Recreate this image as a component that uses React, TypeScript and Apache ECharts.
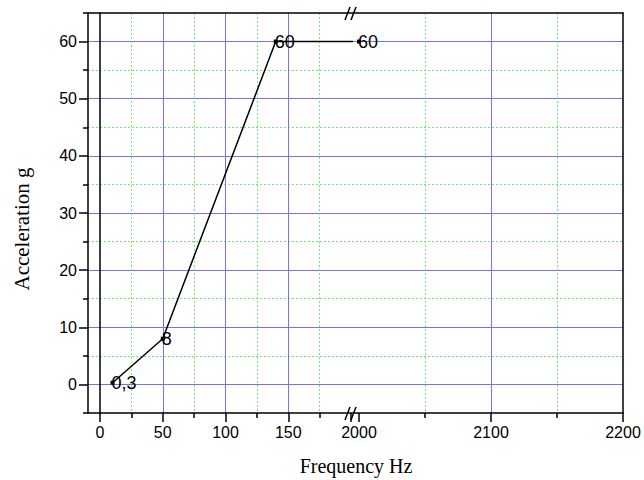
import React, { useEffect, useRef } from 'react';
import * as echarts from 'echarts';

// ---- data ----
const frequency = [10, 50, 140, 2000];
const acceleration = [0.3, 8, 60, 60];
const pointLabels = ['0,3', '8', '60', '60'];

// axis ranges
const leftRange = [0, 200];
const rightRange = [2000, 2200];
const yRange = [-5, 65];
const yMajorRange = [0, 60];

const BLUE = '#7474ec';
const GREEN = '#74e474';
const BLACK = '#000';
const SANS = '"Liberation Sans", Arial, sans-serif';
const SERIF = '"Liberation Serif", "Times New Roman", serif';

export default function App() {
  const ref = useRef<HTMLDivElement>(null);
  useEffect(() => {
    if (!ref.current) return;
    const chart = echarts.init(ref.current, undefined, { renderer: 'svg' });

    const top = 13;
    const height = 400;
    const pxPerY = height / (yRange[1] - yRange[0]);
    const majorTop = top + (yRange[1] - yMajorRange[1]) * pxPerY;
    const majorHeight = (yMajorRange[1] - yMajorRange[0]) * pxPerY;

    const points = frequency.map((f, i) => [f, acceleration[i]]);

    const frameLine = { show: true, onZero: false, lineStyle: { color: BLACK, width: 1.5 } };
    const tickStyle = { color: BLACK, width: 1.5 };
    const labelStyle = {
      fontSize: 16, color: BLACK, fontFamily: SANS, margin: 11,
      formatter: (v: number) => String(v),
    };

    const seriesBase = {
      type: 'line' as const,
      data: points,
      symbol: 'rect',
      symbolSize: 4,
      clip: true,
      z: 5,
      itemStyle: { color: BLACK },
      lineStyle: { color: BLACK, width: 1.5 },
      label: {
        show: true,
        position: 'right' as const,
        distance: -3,
        fontSize: 18,
        color: BLACK,
        fontFamily: SANS,
        formatter: (p: any) => pointLabels[p.dataIndex],
      },
    };

    const breakLines = [
      [345, 20, 350, 7],
      [351, 20, 356, 7],
      [345, 420, 350, 407],
      [351, 420, 356, 407],
    ].map(([x1, y1, x2, y2]) => ({
      type: 'line',
      shape: { x1, y1, x2, y2 },
      style: { stroke: BLACK, lineWidth: 1.5 },
      z: 10,
    }));

    chart.setOption({
      animation: false,
      backgroundColor: '#fff',
      grid: [
        { left: 88, top, width: 535, height },
        { left: 88, top: majorTop, width: 535, height: majorHeight },
        { left: 100, top, width: 251, height },
        { left: 359, top, width: 264, height },
      ],
      xAxis: [
        {
          gridIndex: 0, type: 'value', min: 0, max: 1, position: 'bottom',
          axisLine: frameLine, axisTick: { show: false }, axisLabel: { show: false }, splitLine: { show: false },
        },
        {
          gridIndex: 0, type: 'value', min: 0, max: 1, position: 'top',
          axisLine: frameLine, axisTick: { show: false }, axisLabel: { show: false }, splitLine: { show: false },
        },
        { gridIndex: 1, type: 'value', min: 0, max: 1, show: false },
        {
          gridIndex: 2, type: 'value', min: leftRange[0], max: leftRange[1], interval: 50, position: 'bottom',
          axisLine: { show: false, onZero: false },
          axisTick: { show: true, length: 9, lineStyle: tickStyle },
          minorTick: { show: true, splitNumber: 2, length: 5, lineStyle: tickStyle },
          axisLabel: { ...labelStyle, showMaxLabel: false },
          splitLine: { show: true, showMinLine: false, showMaxLine: false, lineStyle: { color: BLUE, width: 1 } },
          minorSplitLine: { show: true, lineStyle: { color: GREEN, width: 1, type: [2, 2] } },
        },
        {
          gridIndex: 3, type: 'value', min: rightRange[0], max: rightRange[1], interval: 100, position: 'bottom',
          axisLine: { show: false, onZero: false },
          axisTick: { show: true, length: 9, lineStyle: tickStyle },
          minorTick: { show: true, splitNumber: 2, length: 5, lineStyle: tickStyle },
          axisLabel: { ...labelStyle },
          splitLine: { show: true, showMinLine: false, showMaxLine: false, lineStyle: { color: BLUE, width: 1 } },
          minorSplitLine: { show: true, lineStyle: { color: GREEN, width: 1, type: [2, 2] } },
        },
      ],
      yAxis: [
        {
          gridIndex: 0, type: 'value', min: yRange[0], max: yRange[1], interval: 10, position: 'left',
          axisLine: frameLine,
          axisTick: { show: true, length: 5, lineStyle: tickStyle },
          axisLabel: { show: false },
          splitLine: { show: true, showMinLine: false, showMaxLine: false, lineStyle: { color: GREEN, width: 1, type: [2, 2] } },
        },
        {
          gridIndex: 0, type: 'value', min: yRange[0], max: yRange[1], position: 'right',
          axisLine: frameLine, axisTick: { show: false }, axisLabel: { show: false }, splitLine: { show: false },
        },
        {
          gridIndex: 1, type: 'value', min: yMajorRange[0], max: yMajorRange[1], interval: 10, position: 'left',
          axisLine: { show: false, onZero: false },
          axisTick: { show: true, length: 9, lineStyle: tickStyle },
          axisLabel: { ...labelStyle },
          splitLine: { show: true, lineStyle: { color: BLUE, width: 1 } },
        },
        {
          gridIndex: 2, type: 'value', min: yRange[0], max: yRange[1], position: 'left',
          axisLine: frameLine, axisTick: { show: false }, axisLabel: { show: false }, splitLine: { show: false },
        },
        { gridIndex: 3, type: 'value', min: yRange[0], max: yRange[1], show: false },
      ],
      series: [
        { ...seriesBase, xAxisIndex: 3, yAxisIndex: 3 },
        { ...seriesBase, xAxisIndex: 4, yAxisIndex: 4 },
      ],
      graphic: [
        {
          type: 'text', x: 356, y: 466, z: 10,
          style: { text: 'Frequency Hz', font: `20px ${SERIF}`, fill: BLACK, align: 'center', verticalAlign: 'middle' },
        },
        {
          type: 'text', x: 22, y: 229, rotation: Math.PI / 2, z: 10,
          style: { text: 'Acceleration g', font: `21px ${SERIF}`, fill: BLACK, align: 'center', verticalAlign: 'middle' },
        },
        ...breakLines,
      ],
    });
    return () => chart.dispose();
  }, []);
  return <div ref={ref} style={{ position: 'fixed', left: 0, top: 0, width: 644, height: 480 }} />;
}
